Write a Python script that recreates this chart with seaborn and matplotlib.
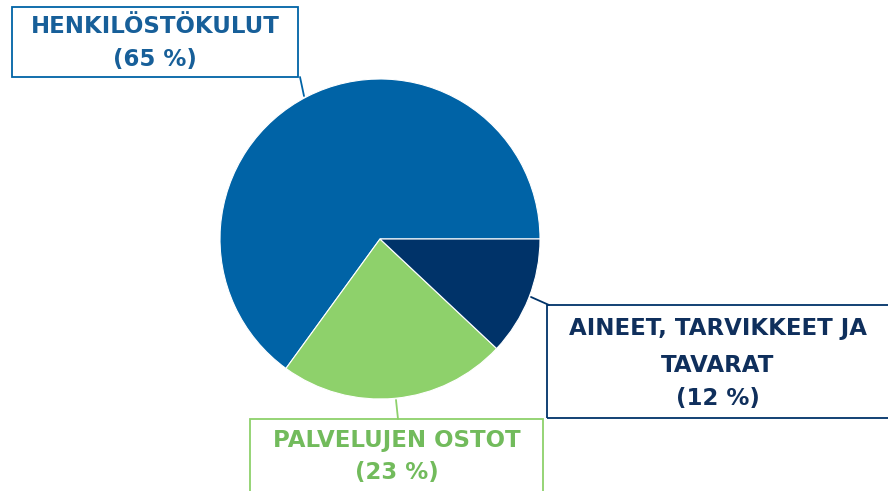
import matplotlib
matplotlib.use("Agg")
import matplotlib.pyplot as plt
from matplotlib.patches import Rectangle
import seaborn as sns

# data
labels = ["HENKILÖSTÖKULUT", "PALVELUJEN OSTOT", "AINEET, TARVIKKEET JA\nTAVARAT"]
shares = [65, 23, 12]
colors = ["#0063a6", "#8ed16b", "#003369"]
text_colors = ["#175f99", "#72bb5c", "#0f2f5c"]

sns.set_style("white")
plt.rcParams["font.family"] = ["DejaVu Sans"]

W, H = 888, 491
fig = plt.figure(figsize=(W / 100, H / 100), dpi=100)
ax = fig.add_axes([0, 0, 1, 1])

cx, cy, r = 380, H - 239, 160
ax.pie(shares, colors=colors, startangle=0, counterclock=True,
       center=(cx, cy), radius=r, frame=True,
       wedgeprops=dict(edgecolor="white", linewidth=0.8))
ax.set_xlim(0, W)
ax.set_ylim(0, H)
ax.set_aspect("equal")
ax.axis("off")

# label boxes: (x0, y_top, x1, y_bottom, text x, line ys) in pixel coords
boxes = [
    (12, 7, 298, 77, 155, [26, 59]),
    (250, 419, 543, 500, 397, [440, 472]),
    (547, 305, 900, 418, 718, [328, 365, 398]),
]
leaders = [
    ((304, 96), (300, 77)),
    ((396, 400), (398, 419)),
    ((531, 297), (549, 305)),
]

for i, (x0, y0, x1, y1, tx, ys) in enumerate(boxes):
    ax.add_patch(Rectangle((x0, H - y1), x1 - x0, y1 - y0, fill=False,
                           edgecolor=colors[i], linewidth=1.3, clip_on=False))
    lines = labels[i].split("\n") + [f"({shares[i]} %)"]
    for line, y in zip(lines, ys):
        ax.text(tx, H - y, line, ha="center", va="center", fontsize=16.5,
                fontweight="bold", color=text_colors[i])
    (ax0, ay0), (ax1, ay1) = leaders[i]
    ax.plot([ax0, ax1], [H - ay0, H - ay1], color=colors[i], linewidth=1.3)

fig.savefig("out.png", dpi=100)
